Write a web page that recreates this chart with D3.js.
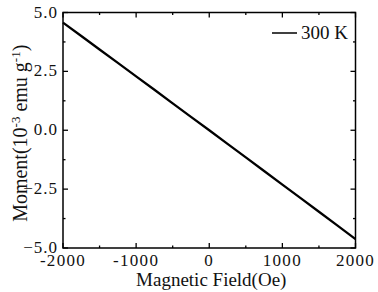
<!DOCTYPE html>
<html><head><meta charset="utf-8">
<script src="https://cdn.jsdelivr.net/npm/d3@7"></script>
<style>
body{margin:0;background:#fff;}
text{font-family:"Liberation Serif","Times New Roman",serif;fill:#111;}
</style></head>
<body><svg id="c" width="378" height="292"></svg>
<script>
const field = [-2000,-1750,-1500,-1250,-1000,-750,-500,-250,0,250,500,750,1000,1250,1500,1750,2000];
const moment = [4.57,4.00,3.43,2.86,2.29,1.72,1.14,0.57,0.00,-0.58,-1.15,-1.73,-2.31,-2.88,-3.46,-4.04,-4.62];
const xMajor = [-2000,-1000,0,1000,2000];
const xMinor = [-1500,-500,500,1500];
const yMajor = [-5.0,-2.5,0.0,2.5,5.0];
const yMinor = [-3.75,-1.25,1.25,3.75];
const seriesLabel = "300 K";

const svg = d3.select("#c");
const L=63,R=355.5,T=12.5,B=248;
const x = d3.scaleLinear().domain([-2000,2000]).range([L,R]);
const y = d3.scaleLinear().domain([-5,5]).range([B,T]);

// data line
const line = d3.line().x((d,i)=>x(field[i])).y((d,i)=>y(moment[i]));
svg.append("path").datum(moment).attr("d",line)
  .attr("fill","none").attr("stroke","#000").attr("stroke-width",2.3);

// frame
svg.append("rect").attr("x",L).attr("y",T).attr("width",R-L).attr("height",B-T)
  .attr("fill","none").attr("stroke","#000").attr("stroke-width",1.5);

// ticks (inward) on all sides
const g = svg.append("g").attr("stroke","#000").attr("stroke-width",1.3);
function xt(vals,len){vals.forEach(v=>{
  g.append("line").attr("x1",x(v)).attr("x2",x(v)).attr("y1",B).attr("y2",B-len);
  g.append("line").attr("x1",x(v)).attr("x2",x(v)).attr("y1",T).attr("y2",T+len);});}
function yt(vals,len){vals.forEach(v=>{
  g.append("line").attr("y1",y(v)).attr("y2",y(v)).attr("x1",L).attr("x2",L+len);
  g.append("line").attr("y1",y(v)).attr("y2",y(v)).attr("x1",R).attr("x2",R-len);});}
xt(xMajor,5);xt(xMinor,2.5);yt(yMajor,5);yt(yMinor,2.5);

// tick labels
svg.selectAll(".xl").data(xMajor).enter().append("text")
  .attr("x",d=>x(d)).attr("y",266).attr("text-anchor","middle")
  .style("font-size","17px").style("letter-spacing","1.3px").text(d=>d);
svg.selectAll(".yl").data(yMajor).enter().append("text")
  .attr("x",58).attr("y",d=>y(d)+5).attr("text-anchor","end")
  .style("font-size","17px").style("letter-spacing","1px").text(d=>d3.format(".1f")(d));

// axis titles
svg.append("text").attr("x",(L+R)/2+2).attr("y",286).attr("text-anchor","middle")
  .style("font-size","19px").text("Magnetic Field(Oe)");
const yl = svg.append("text").attr("transform",`translate(27,${(T+B)/2+3}) rotate(-90)`)
  .attr("text-anchor","middle").style("font-size","20px");
yl.append("tspan").text("Moment(10");
yl.append("tspan").attr("dy",-7).style("font-size","13px").text("-3");
yl.append("tspan").attr("dy",7).text(" emu g");
yl.append("tspan").attr("dy",-7).style("font-size","13px").text("-1");
yl.append("tspan").attr("dy",7).text(")");

// legend
svg.append("line").attr("x1",272).attr("x2",297).attr("y1",33).attr("y2",33)
  .attr("stroke","#000").attr("stroke-width",1.5);
svg.append("text").attr("x",301).attr("y",38.5).style("font-size","19px").text(seriesLabel);
</script></body></html>
